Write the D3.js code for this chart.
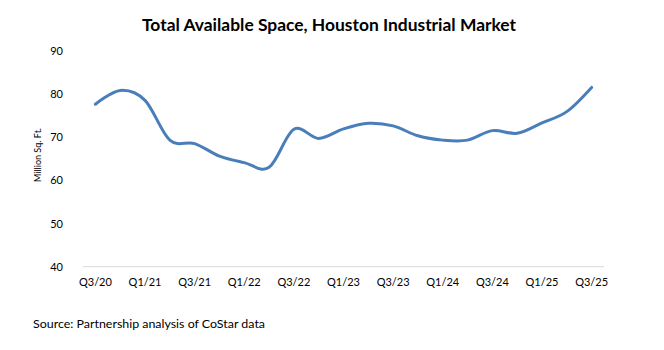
<!DOCTYPE html>
<html>
<head>
<meta charset="utf-8">
<script src="https://cdn.jsdelivr.net/npm/d3@7"></script>
<style>
  body { margin: 0; background: #fff; }
  text { font-family: Lato, "Open Sans", sans-serif; fill: #000; }
</style>
</head>
<body>
<div id="chart"></div>
<script>
"use strict"

// quarterly data, Q3/20 .. Q3/25
let quarters = ["Q3/20","Q4/20","Q1/21","Q2/21","Q3/21","Q4/21","Q1/22","Q2/22","Q3/22","Q4/22",
                "Q1/23","Q2/23","Q3/23","Q4/23","Q1/24","Q2/24","Q3/24","Q4/24","Q1/25","Q2/25","Q3/25"];
let space = [77.6, 80.8, 78.5, 69.3, 68.5, 65.6, 64.1, 63.0, 71.8, 69.7,
             71.9, 73.2, 72.6, 70.3, 69.3, 69.3, 71.5, 70.9, 73.3, 75.9, 81.5];
let yTicks = [40, 50, 60, 70, 80, 90];
let xLabels = ["Q3/20","Q1/21","Q3/21","Q1/22","Q3/22","Q1/23","Q3/23","Q1/24","Q3/24","Q1/25","Q3/25"];

let width = 664, height = 350;

let svg = d3.select("#chart").append("svg")
    .attr("width", width)
    .attr("height", height)

// plot area
let x = d3.scaleBand()
    .domain(quarters)
    .range([83, 604])

let y = d3.scaleLinear()
    .domain([40, 90])
    .range([266.7, 50.7])

// title
svg.append("text")
    .attr("x", 142)
    .attr("y", 31)
    .attr("textLength", 374)
    .attr("lengthAdjust", "spacingAndGlyphs")
    .style("font-size", "17px")
    .style("font-weight", "bold")
    .text("Total Available Space, Houston Industrial Market")

// y axis (labels only)
let yAxis = d3.axisLeft(y)
    .tickValues(yTicks)
    .tickSize(0)
    .tickPadding(0)

svg.append("g")
    .attr("transform", "translate(63,0)")
    .call(yAxis)
    .call(g => g.select(".domain").remove())
    .selectAll("text")
    .style("font-size", "11px")
    .style("font-family", "Lato, sans-serif")
    .attr("fill", "#000")

// baseline
svg.append("line")
    .attr("x1", 83).attr("x2", 604)
    .attr("y1", y(40)).attr("y2", y(40))
    .style("stroke", "#d9d9d9")
    .style("stroke-width", 1)

// x axis labels every other quarter
let xAxis = d3.axisBottom(x)
    .tickValues(xLabels)
    .tickSize(0)
    .tickPadding(12)

svg.append("g")
    .attr("transform", "translate(0," + y(40) + ")")
    .call(xAxis)
    .call(g => g.select(".domain").remove())
    .selectAll("text")
    .style("font-size", "11px")
    .style("font-family", "Lato, sans-serif")
    .attr("fill", "#000")

// y axis title
svg.append("text")
    .attr("transform", "translate(41,155) rotate(-90)")
    .attr("text-anchor", "middle")
    .attr("textLength", 54)
    .attr("lengthAdjust", "spacingAndGlyphs")
    .style("font-size", "10px")
    .text("Million Sq. Ft.")

// the line
let line = d3.line()
    .x((d, i) => x(quarters[i]) + x.bandwidth() / 2)
    .y(d => y(d))
    .curve(d3.curveCardinal.tension(0))

svg.append("path")
    .datum(space)
    .attr("d", line)
    .style("fill", "none")
    .style("stroke", "#4a7ebb")
    .style("stroke-width", 3)
    .style("stroke-linecap", "round")

// source note
svg.append("text")
    .attr("x", 33)
    .attr("y", 328)
    .attr("textLength", 232)
    .attr("lengthAdjust", "spacingAndGlyphs")
    .style("font-size", "12px")
    .text("Source: Partnership analysis of CoStar data")
</script>
</body>
</html>
